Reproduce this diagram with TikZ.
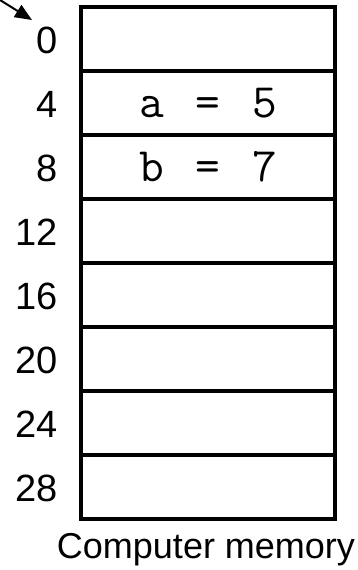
\documentclass[tikz,border=0pt]{standalone}
\usepackage{fontspec}
\setmainfont{Liberation Sans}
\usetikzlibrary{arrows.meta}
\begin{document}
\begin{tikzpicture}[x=1pt,y=1pt,
  cell/.style={draw=black, line width=4pt, minimum width=254pt, minimum height=64pt, inner sep=0pt, outer sep=0pt,
    font=\ttfamily\fontsize{48}{52}\selectfont},
  addr/.style={anchor=east, inner sep=0pt, font=\fontsize{38}{42}\selectfont},
  captext/.style={anchor=base, inner sep=0pt, font=\fontsize{36}{40}\selectfont}]
\useasboundingbox (0,0) rectangle (357,-570);
\foreach \i/\txt/\a in {0//0,1/{a\hspace{7pt} =\hspace{7pt} 5}/4,2/{b\hspace{7pt} =\hspace{7pt} 7}/8,3//12,4//16,5//20,6//24,7//28}{
  \node[cell] (r\i) at (208,{-39-64*\i}) {\txt};
  \node[addr] (l\i) at (58,{-40-64*\i}) {\a};
}
\node[captext] (caption) at (206,-558) {Computer memory};
\coordinate (src) at (0,0);
\coordinate (tip) at (32,-20);
\draw[line width=2pt, -{Triangle[length=17pt,width=14pt]}] (src) -- (tip);
\end{tikzpicture}
\end{document}
